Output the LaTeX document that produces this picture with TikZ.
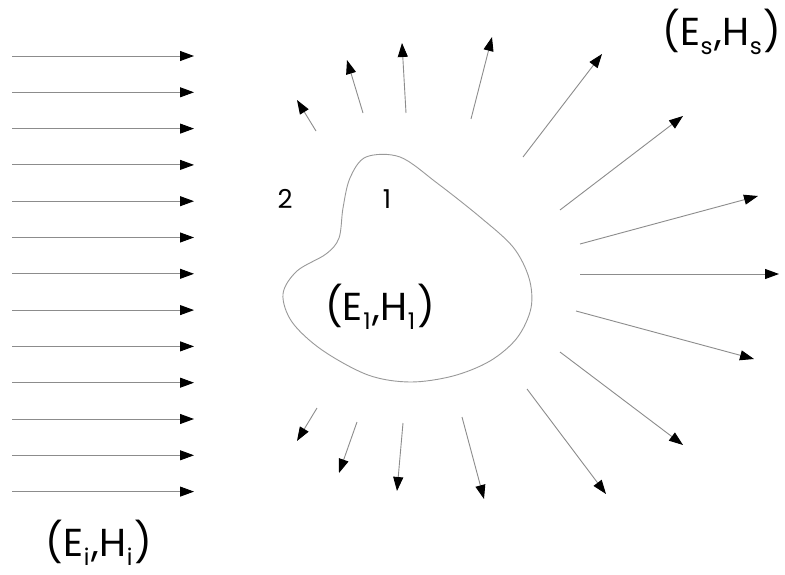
\documentclass[tikz,border=0pt]{standalone}
\usepackage{fontspec}
\setmainfont{Poppins}
\usetikzlibrary{arrows.meta}
\newcommand{\lowsub}[1]{\kern0.5pt\raisebox{-0.4ex}{\fontsize{23}{23}\selectfont #1}\kern2pt}
\tikzset{
  ray/.style={draw=black!45, line width=0.9pt,
    -{Triangle[length=14pt,width=10pt,color=black]}},
  field/.style={font=\fontsize{39}{39}\selectfont, inner sep=0pt},
  region/.style={font=\fontsize{26}{26}\selectfont, inner sep=0pt},
}
\begin{document}
\begin{tikzpicture}[x=1pt,y=-1pt]
\useasboundingbox (0,0) rectangle (785,575);
\fill[white] (0,0) rectangle (785,575);
% incident field
\foreach \k in {0,...,12}{
  \coordinate (a\k) at (12,{56+36.3*\k});
  \coordinate (b\k) at (194,{56+36.3*\k});
  \draw[ray] (a\k) -- (b\k);
}
% scatterer
\draw[black!40, line width=0.9pt] plot[smooth cycle, tension=0.55] coordinates {
 (366,157) (400,157) (437,183) (480,217) (513,247) (529,278) (531,308)
 (517,338) (490,361) (453,376) (410,382) (368,375) (322,350) (292,322)
 (283,294) (297,271) (326,254) (339,238) (343,208) (350,178)};
% scattered field
\foreach \sx/\sy/\tx/\ty [count=\n] in {
  316/131/297/100, 363/113/347/60, 406/113/402/43, 471/119/492/37,
  523/157/602/54, 560/210/683/116, 580/244/758/196, 580/274/779/274,
  576/311/754/359, 560/352/683/445, 527/389/606/494, 462/417/484/499,
  403/423/397/491, 357/422/339/473, 317/408/297/441}{
  \coordinate (s\n) at (\sx,\sy);
  \coordinate (t\n) at (\tx,\ty);
  \draw[ray] (s\n) -- (t\n);
}
% labels
\node[field] (ei) at (99,543) {(E\lowsub{i},H\lowsub{i})};
\node[field] (es) at (722,32) {(E\lowsub{s},H\lowsub{s})};
\node[field] (e1) at (380,307) {(E\lowsub{1},H\lowsub{1})};
\node[region] (r2) at (285,199) {2};
\node[region] (r1) at (387,199) {1};
\end{tikzpicture}
\end{document}
